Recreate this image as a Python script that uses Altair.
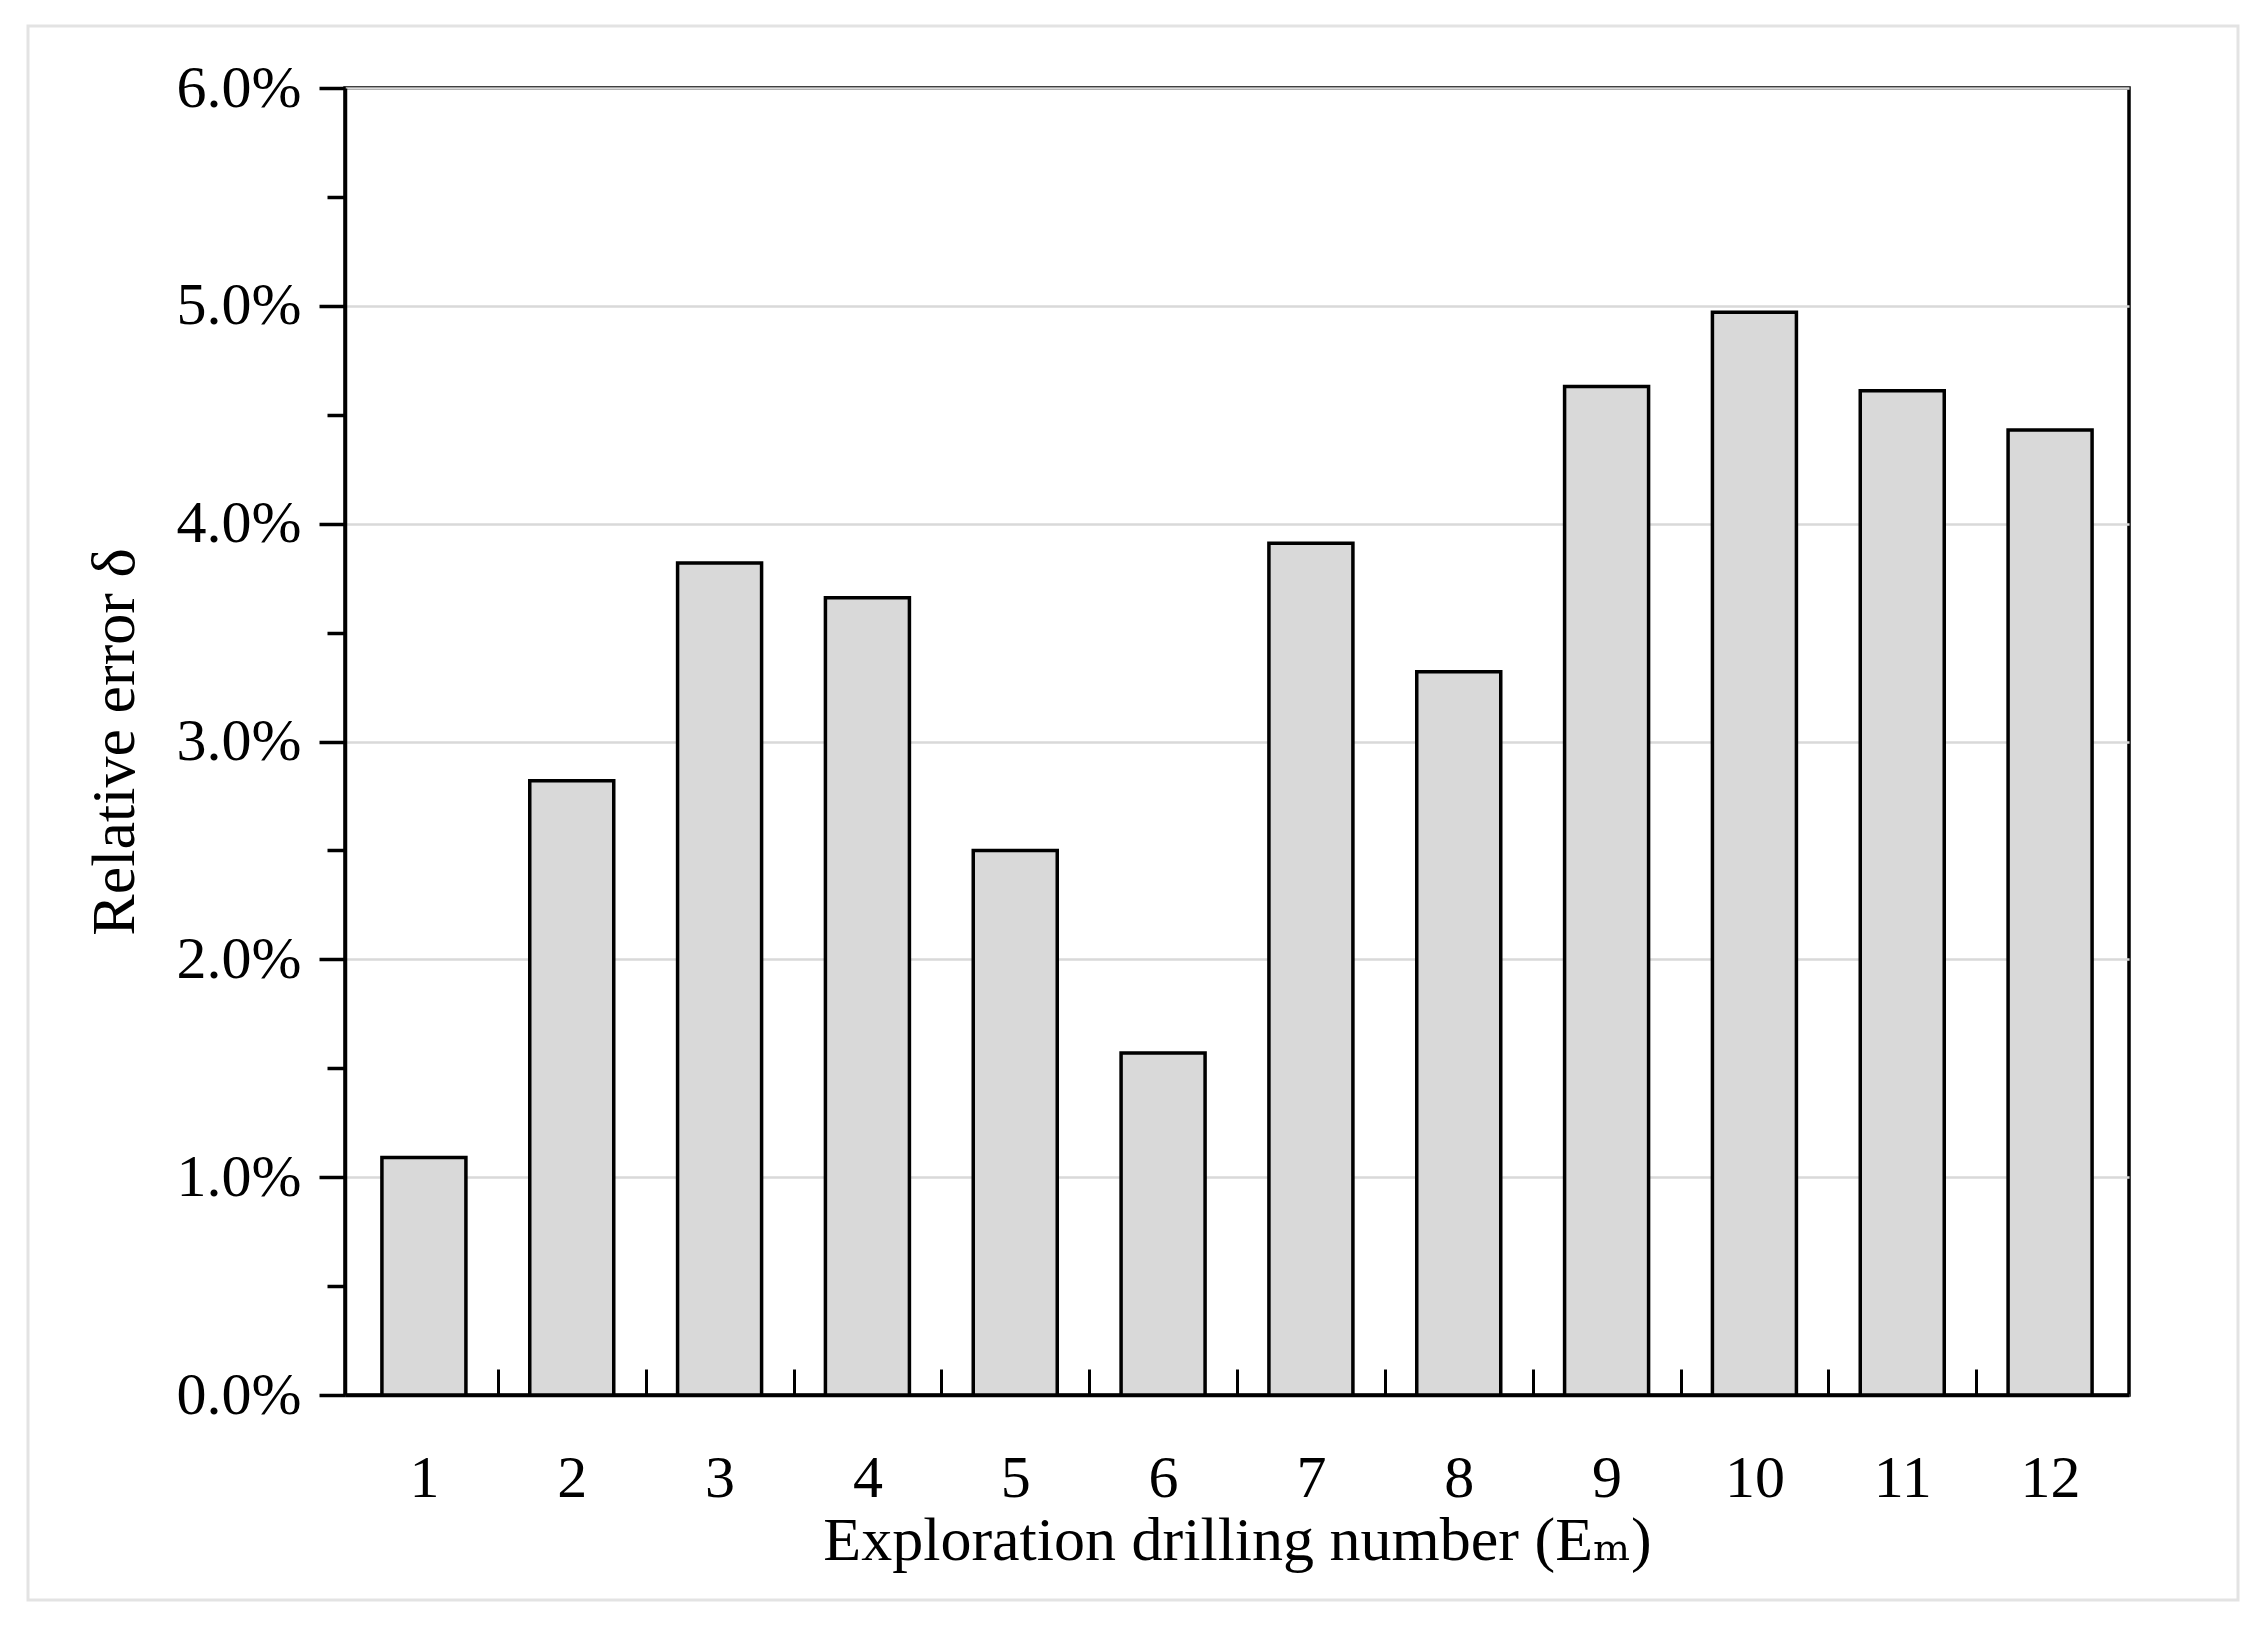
import altair as alt
import pandas as pd

# Data
drill_numbers = [1, 2, 3, 4, 5, 6, 7, 8, 9, 10, 11, 12]
relative_error = [0.0109, 0.0282, 0.0382, 0.0366, 0.0250, 0.0157,
                  0.0391, 0.0332, 0.0463, 0.0497, 0.0461, 0.0443]
y_tick_values = [0.0, 0.005, 0.01, 0.015, 0.02, 0.025, 0.03, 0.035,
                 0.04, 0.045, 0.05, 0.055, 0.06]
x_boundary_ticks = [1.5, 2.5, 3.5, 4.5, 5.5, 6.5, 7.5, 8.5, 9.5, 10.5, 11.5]

df = pd.DataFrame({"n": drill_numbers, "err": relative_error})

W, H = 1784, 1307
FONT = "Liberation Serif, DejaVu Serif, serif"
major = "round(datum.value*1000) % 10 == 0"

x_scale = alt.Scale(domain=[0.5, 12.5], nice=False, zero=False)
y_scale = alt.Scale(domain=[0, 0.06], nice=False)

bars = alt.Chart(df).mark_bar(
    size=84, orient="vertical", fill="#d9d9d9", stroke="black", strokeWidth=3.5
).encode(
    x=alt.X("n:Q", scale=x_scale,
            axis=alt.Axis(orient="bottom", values=drill_numbers, format="d",
                          ticks=False, grid=False, domain=True,
                          domainColor="black", domainWidth=3.5,
                          labelFont=FONT, labelFontSize=60, labelColor="black",
                          labelPadding=54, labelFlush=False,
                          title="Exploration drilling number (Eₘ)",
                          titleFont=FONT, titleFontSize=62,
                          titleFontWeight="normal", titleColor="black",
                          titlePadding=2)),
    y=alt.Y("err:Q", scale=y_scale,
            axis=alt.Axis(orient="left", values=y_tick_values,
                          labelExpr=f"{major} ? format(datum.value, '.1%') : ''",
                          tickSize={"condition": {"test": major, "value": 26}, "value": 18},
                          tickWidth=3.5, tickColor="black",
                          domain=True, domainColor="black", domainWidth=3.5,
                          grid=True, gridColor="#d9d9d9", gridWidth=2.5,
                          gridOpacity={"condition": {"test": major, "value": 1}, "value": 0},
                          labelFont=FONT, labelFontSize=60, labelColor="black",
                          labelPadding=18, labelFlush=False,
                          title="Relative error δ",
                          titleFont=FONT, titleFontSize=62,
                          titleFontWeight="normal", titleColor="black",
                          titlePadding=30)),
)

# inward ticks on the bottom edge, between the bars
inner_ticks = alt.Chart(df).mark_point(opacity=0).encode(
    x=alt.X("n:Q", scale=x_scale,
            axis=alt.Axis(orient="top", offset=-H, values=x_boundary_ticks,
                          labels=False, domain=False, grid=False,
                          ticks=True, tickSize=26, tickWidth=3,
                          tickColor="black", title=None)),
)

# light outer figure border
frame_df = pd.DataFrame({"k": [0]})
outer = alt.Chart(frame_df).mark_rect(
    fill=None, stroke="#e3e3e3", strokeWidth=3, clip=False
).encode(
    x=alt.value(-317), x2=alt.value(1893),
    y=alt.value(-62), y2=alt.value(1512),
)

chart = alt.layer(outer, bars, inner_ticks).properties(
    width=W, height=H,
    autosize=alt.AutoSizeParams(type="none"),
    padding={"left": 337, "top": 80, "right": 120, "bottom": 220},
    background="white",
).configure_view(
    stroke="black", strokeWidth=3.5
)

chart.save("out.html", embed_options={"renderer": "svg", "actions": False})
